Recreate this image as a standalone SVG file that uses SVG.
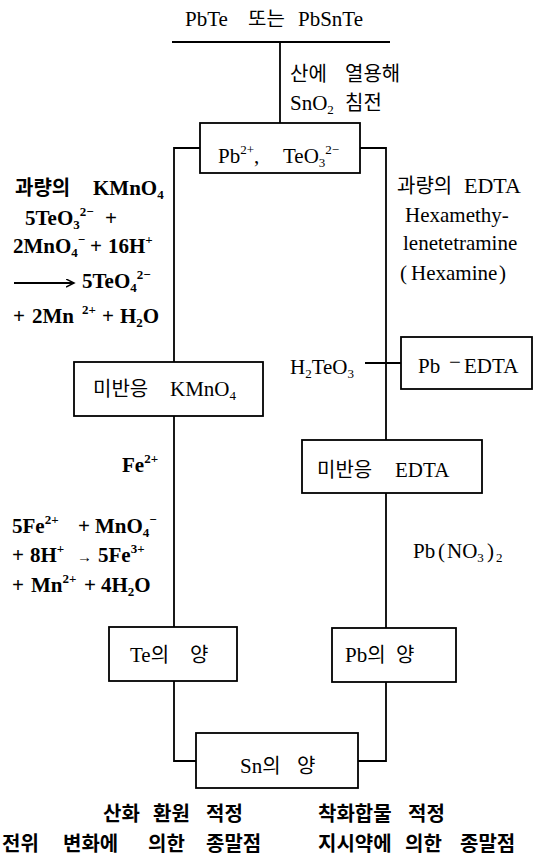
<svg xmlns="http://www.w3.org/2000/svg" width="536" height="857" viewBox="0 0 536 857">
<style>
.t{font-family:"Liberation Serif","Noto Sans CJK KR",serif;font-size:21px;fill:#000}
.k{font-family:"Noto Sans CJK KR","Liberation Serif",sans-serif;font-size:20px}
.b{font-weight:bold}
.sup{font-size:13px;baseline-shift:9px}
.sub{font-size:13px;baseline-shift:-4px}
.box{fill:#fff;stroke:#000;stroke-width:1.8}
.ln{fill:none;stroke:#000;stroke-width:1.8}
</style>
<defs>
<marker id="ah" markerWidth="10" markerHeight="10" refX="8" refY="4" orient="auto" markerUnits="userSpaceOnUse">
<path d="M0,0 L8,4 L0,8" fill="none" stroke="#000" stroke-width="1.5"/>
</marker>
</defs>
<rect width="536" height="857" fill="#fff"/>

<g id="connectors">
<path class="ln" d="M172,42 H390"/>
<path class="ln" d="M280,42 V123"/>
<path class="ln" d="M200,148 H174 V362"/>
<path class="ln" d="M174,416 V627"/>
<path class="ln" d="M174,681 V761 H196"/>
<path class="ln" d="M360,148 H386 V440"/>
<path class="ln" d="M386,493 V628"/>
<path class="ln" d="M386,682 V761 H358"/>
<path class="ln" d="M365,363 H401"/>
</g>

<g id="title">
<text class="t" y="26" font-size="23"><tspan x="185">PbTe</tspan><tspan class="k" x="248" font-size="19">또는</tspan><tspan x="298">PbSnTe</tspan></text>
</g>

<g id="step-dissolve">
<text class="t" y="81"><tspan class="k" x="290" font-size="21">산에</tspan><tspan class="k" x="345" font-size="21">열용해</tspan></text>
<text class="t" y="110"><tspan x="290">SnO</tspan><tspan class="sub">2</tspan><tspan class="k" x="345" font-size="21">침전</tspan></text>
</g>

<g id="node-pb-teo3">
<rect class="box" x="200" y="123" width="160" height="50"/>
<text class="t" y="163"><tspan x="218">Pb</tspan><tspan class="sup">2+</tspan><tspan>,</tspan><tspan x="283">TeO</tspan><tspan class="sub">3</tspan><tspan class="sup">2−</tspan></text>
</g>

<g id="left-reagent">
<text class="t b" y="195"><tspan class="k" x="15">과량의</tspan><tspan x="93">KMnO</tspan><tspan class="sub">4</tspan></text>
<text class="t b" y="225"><tspan x="25">5TeO</tspan><tspan class="sub">3</tspan><tspan class="sup">2−</tspan><tspan x="105">+</tspan></text>
<text class="t b" y="253"><tspan x="13">2MnO</tspan><tspan class="sub">4</tspan><tspan class="sup">−</tspan><tspan x="90">+</tspan><tspan x="108">16H</tspan><tspan class="sup">+</tspan></text>
<path class="ln" d="M14,283 H74" stroke-width="1.5" marker-end="url(#ah)"/>
<text class="t b" y="288"><tspan x="82">5TeO</tspan><tspan class="sub">4</tspan><tspan class="sup">2−</tspan></text>
<text class="t b" y="323"><tspan x="13">+</tspan><tspan x="32">2Mn</tspan><tspan class="sup" x="82">2+</tspan><tspan x="102">+</tspan><tspan x="120">H</tspan><tspan class="sub">2</tspan><tspan>O</tspan></text>
</g>

<g id="right-reagent">
<text class="t" y="193"><tspan class="k" x="397">과량의</tspan><tspan x="464" font-size="22">EDTA</tspan></text>
<text class="t" x="405" y="222">Hexamethy-</text>
<text class="t" x="403" y="250">lenetetramine</text>
<text class="t" y="280"><tspan x="400">(</tspan><tspan x="411">Hexamine</tspan><tspan x="499">)</tspan></text>
</g>

<g id="node-pb-edta">
<rect class="box" x="401" y="337" width="131" height="52"/>
<text class="t" y="373"><tspan x="418">Pb</tspan><tspan x="449" dy="-4">−</tspan><tspan x="464" dy="4">EDTA</tspan></text>
</g>

<g id="label-h2teo3">
<text class="t" y="374"><tspan x="290">H</tspan><tspan class="sub">2</tspan><tspan>TeO</tspan><tspan class="sub">3</tspan></text>
</g>

<g id="node-kmno4-excess">
<rect class="box" x="74" y="362" width="189" height="54"/>
<text class="t" y="396"><tspan class="k" x="93">미반응</tspan><tspan x="170">KMnO</tspan><tspan class="sub">4</tspan></text>
</g>

<g id="label-fe">
<text class="t b" y="472"><tspan x="122">Fe</tspan><tspan class="sup">2+</tspan></text>
<text class="t b" y="533"><tspan x="12">5Fe</tspan><tspan class="sup">2+</tspan><tspan x="78">+</tspan><tspan x="95">MnO</tspan><tspan class="sub">4</tspan><tspan class="sup">−</tspan></text>
<text class="t b" y="562"><tspan x="12">+</tspan><tspan x="30">8H</tspan><tspan class="sup">+</tspan><tspan x="77" font-size="15">→</tspan><tspan x="98">5Fe</tspan><tspan class="sup">3+</tspan></text>
<text class="t b" y="592"><tspan x="12">+</tspan><tspan x="31">Mn</tspan><tspan class="sup">2+</tspan><tspan x="84">+</tspan><tspan x="101">4H</tspan><tspan class="sub">2</tspan><tspan>O</tspan></text>
</g>

<g id="node-edta-excess">
<rect class="box" x="302" y="440" width="180" height="53"/>
<text class="t" y="477"><tspan class="k" x="317">미반응</tspan><tspan x="395">EDTA</tspan></text>
</g>

<g id="label-pbno3">
<text class="t" y="558"><tspan x="413">Pb</tspan><tspan x="438">(</tspan><tspan x="447">NO</tspan><tspan class="sub">3</tspan><tspan x="487">)</tspan><tspan class="sub" x="496">2</tspan></text>
</g>

<g id="node-te">
<rect class="box" x="109" y="627" width="128" height="54"/>
<text class="t" y="662"><tspan x="130">Te</tspan><tspan class="k">의</tspan><tspan class="k" x="190">양</tspan></text>
</g>

<g id="node-pb">
<rect class="box" x="332" y="628" width="124" height="54"/>
<text class="t" y="662"><tspan x="345">Pb</tspan><tspan class="k">의</tspan><tspan class="k" x="396">양</tspan></text>
</g>

<g id="node-sn">
<rect class="box" x="196" y="733" width="162" height="55"/>
<text class="t" y="773"><tspan x="240">Sn</tspan><tspan class="k">의</tspan><tspan class="k" x="297">양</tspan></text>
</g>

<g id="caption-left">
<text class="k b" y="821"><tspan x="103">산화</tspan><tspan x="153">환원</tspan><tspan x="206">적정</tspan></text>
<text class="k b" y="851"><tspan x="2">전위</tspan><tspan x="63">변화에</tspan><tspan x="148">의한</tspan><tspan x="206">종말점</tspan></text>
</g>

<g id="caption-right">
<text class="k b" y="821"><tspan x="318">착화합물</tspan><tspan x="408">적정</tspan></text>
<text class="k b" y="851"><tspan x="318">지시약에</tspan><tspan x="405">의한</tspan><tspan x="460">종말점</tspan></text>
</g>
</svg>
